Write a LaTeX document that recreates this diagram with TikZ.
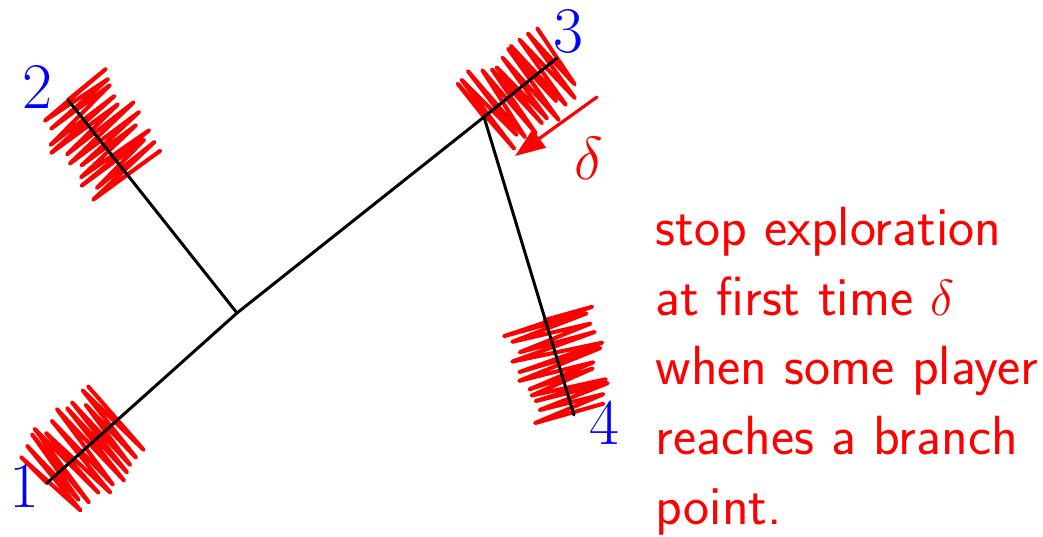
\documentclass[tikz,border=0pt]{standalone}
\usepackage{amsmath,amssymb,amsfonts}
\usepackage{tikz}
\usetikzlibrary{arrows.meta}

\tikzset{
  branch/.style={black, line width=0.85pt},
  scrib/.style={red, line width=1.15pt},
  leaflabel/.style={blue, inner sep=0pt, font=\fontsize{18.5}{22}\selectfont},
  note/.style={red, align=left, inner sep=0pt, font=\sffamily\fontsize{15.7}{19.9}\selectfont},
}

% zigzag scribble along the segment (#1,#2)--(#3,#4), seed #5
\newcommand{\scribble}[5]{%
  \pgfmathsetseed{#5}%
  \pgfmathsetmacro{\scrdx}{#3-#1}%
  \pgfmathsetmacro{\scrdy}{#4-#2}%
  \pgfmathsetmacro{\scrlen}{veclen(\scrdx,\scrdy)}%
  \pgfmathsetmacro{\scrnx}{-\scrdy/\scrlen}%
  \pgfmathsetmacro{\scrny}{\scrdx/\scrlen}%
  \draw[scrib] (#1,#2) \foreach \i [evaluate=\i as \scrpos using {\i/22+(rnd-0.5)*0.07},
      evaluate=\i as \scramp using {(2*isodd(\i)-1)*(30+20*rnd)}] in {0,...,22}
    { -- ({#1+\scrpos*\scrdx+\scramp*\scrnx},{#2+\scrpos*\scrdy+\scramp*\scrny}) };
}

\begin{document}
\begin{tikzpicture}[x=0.01cm, y=-0.01cm, line join=round, line cap=round]
\useasboundingbox (0,0) rectangle (1043,537);
\coordinate (A) at (47,483);
\coordinate (B) at (68,100);
\coordinate (C) at (557,58);
\coordinate (D) at (574,415);
\coordinate (J) at (237,313);
\coordinate (K) at (484,117);
% scribbles at the leaves
\scribble{47}{483}{120}{420}{3}
\scribble{68}{100}{130}{176}{5}
\scribble{484}{117}{557}{58}{8}
\scribble{545}{320}{574}{415}{11}
% tree
\draw[branch] (A) -- (J);
\draw[branch] (B) -- (J);
\draw[branch] (J) -- (K);
\draw[branch] (K) -- (C);
\draw[branch] (K) -- (D);
% leaf labels
\node[leaflabel] (n1) at (24,486) {1};
\node[leaflabel] (n2) at (37,87) {2};
\node[leaflabel] (n3) at (568,32) {3};
\node[leaflabel] (n4) at (604,423) {4};
% time arrow
\coordinate (P) at (597,97);
\coordinate (Q) at (515,156);
\draw[red, line width=0.9pt, -{Triangle[length=3mm, width=2.2mm]}] (P) -- (Q);
\node[red, font=\fontsize{16}{19}\selectfont] (delta) at (589,158) {$\delta$};
% remark
\node[note, anchor=north west] (remark) at (655,206)
  {stop exploration\\at first time $\delta$\\when some player\\reaches a branch\\point.};
\end{tikzpicture}
\end{document}
